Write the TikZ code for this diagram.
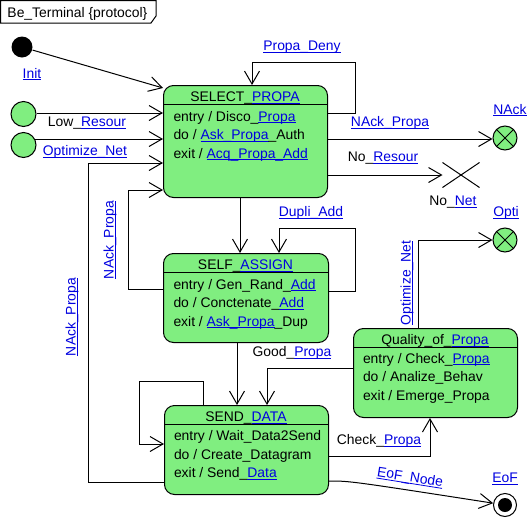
\documentclass[tikz,border=0pt]{standalone}
\usepackage{fontspec}
\setmainfont{Liberation Sans}
\usetikzlibrary{arrows.meta}
\definecolor{sgreen}{RGB}{128,238,128}
\definecolor{lblue}{RGB}{0,0,224}
\newcommand\lnk[1]{{\color{lblue}\setbox0=\hbox{#1}\rlap{\rule[-2pt]{\wd0}{0.8pt}}\box0}}
\begin{document}
\begin{tikzpicture}[x=1pt,y=-1pt,line width=1pt,
  every node/.style={font=\fontsize{13.9}{16}\selectfont},
  state/.style={draw, fill=sgreen, rounded corners=10pt, inner sep=0pt, minimum width=164pt, anchor=north west},
  ttl/.style={anchor=base, inner sep=0pt},
  row/.style={anchor=base west, inner sep=0pt},
  lbl/.style={inner sep=0pt},
  arr/.style={-{Straight Barb[length=13pt,width=15pt]}},
  pseudo/.style={circle, draw, fill=sgreen, inner sep=0pt, minimum size=25pt}]
\useasboundingbox (0,0) rectangle (531,520);

% frame tab
\draw (0.5,0.5) -- (156,0.5) -- (156,16) -- (151,23) -- (0.5,23) -- cycle;
\node[anchor=base west, inner sep=0pt] (frame) at (7,17.7) {Be\_Terminal \{protocol\}};

% pseudo states
\node[circle, fill=black, inner sep=0pt, minimum size=21pt] (init) at (22,47) {};
\node[lbl] (initl) at (32,74) {\lnk{Init}};
\node[pseudo] (g1) at (23.5,114) {};
\node[pseudo] (g2) at (23.5,145) {};
\node[pseudo, minimum size=24pt] (nack) at (505,138) {};
\draw (nack.45) -- (nack.225) (nack.135) -- (nack.315);
\node[pseudo, minimum size=24pt] (opti) at (505,240) {};
\draw (opti.45) -- (opti.225) (opti.135) -- (opti.315);
\node[circle, draw, fill=white, inner sep=0pt, minimum size=23pt] (eof) at (505,505) {};
\node[circle, fill=black, inner sep=0pt, minimum size=14pt] (eofin) at (505,505) {};
\node[inner sep=0pt, minimum width=36pt, minimum height=24pt] (term) at (461,175) {};
\draw (term.north west) -- (term.south east) (term.south west) -- (term.north east);

% states
\node[state, minimum height=112pt] (sel) at (163,85) {};
\draw (sel.west |- 0,104) -- (sel.east |- 0,104);
\node[ttl] (selt) at (245,101.5) {SELECT\_\lnk{PROPA}};
\node[row] (sel1) at (173,121) {entry / Disco\_\lnk{Propa}};
\node[row] (sel2) at (173,139.5) {do / \lnk{Ask\_Propa}\_Auth};
\node[row] (sel3) at (173,158) {exit / \lnk{Acq\_Propa\_Add}};

\node[state, minimum height=89pt, minimum width=165pt] (self) at (163,253) {};
\draw (self.west |- 0,272) -- (self.east |- 0,272);
\node[ttl] (selft) at (245.5,269.5) {SELF\_\lnk{ASSIGN}};
\node[row] (self1) at (173,289) {entry / Gen\_Rand\_\lnk{Add}};
\node[row] (self2) at (173,307.5) {do / Conctenate\_\lnk{Add}};
\node[row] (self3) at (173,326) {exit / \lnk{Ask\_Propa}\_Dup};

\node[state, minimum height=89pt] (send) at (164,405) {};
\draw (send.west |- 0,424) -- (send.east |- 0,424);
\node[ttl] (sendt) at (246,421.5) {SEND\_\lnk{DATA}};
\node[row] (send1) at (173.5,440.5) {entry / Wait\_Data2Send};
\node[row] (send2) at (173.5,459) {do / Create\_Datagram};
\node[row] (send3) at (173.5,477.5) {exit / Send\_\lnk{Data}};

\node[state, minimum height=89pt] (qual) at (353,328) {};
\draw (qual.west |- 0,347) -- (qual.east |- 0,347);
\node[ttl] (qualt) at (435,344.5) {Quality\_of\_\lnk{Propa}};
\node[row] (qual1) at (362.5,363) {entry / Check\_\lnk{Propa}};
\node[row] (qual2) at (362.5,381.5) {do / Analize\_Behav};
\node[row] (qual3) at (362.5,400) {exit / Emerge\_Propa};

% transitions
\coordinate (selin) at (163,88);
\draw[arr] (init) -- (selin);
\draw[arr] (g1.east |- 0,113) -- (sel.west |- 0,113);
\draw[arr] (g2.east |- 0,139) ++(-1.5,0) -- (sel.west |- 0,139);
\draw[arr] (send.west |- 0,482) -| (88,163) -- (sel.west |- 0,163);
\draw[arr] (self.west |- 0,289) -| (128,190) -- (sel.west |- 0,190);
\draw[arr] (sel.east |- 0,113) -| (355,62) -| (sel.north -| 252,0);
\draw[arr] (sel.east |- 0,139) -- (nack.west |- 0,139);
\draw[arr] (sel.east |- term) -- (term.west);
\draw[arr] (sel.south -| 240,0) -- (self.north -| 240,0);
\draw[arr] (self.east |- 0,291) -| (355,228) -| (self.north -| 279,0);
\draw[arr] (self.south -| 237,0) -- (send.north -| 237,0);
\draw[arr] (qual.west |- 0,368) -| (send.north -| 267,0);
\draw[arr] (send.north -| 203,0) |- (139,381) |- (send.west |- 0,444);
\draw[arr] (send.east |- 0,456) -| (qual.south -| 430,0);
\draw[arr] (qual.north -| 418,0) |- (opti.west);
\draw[arr] (send.east |- 0,481) .. controls (350,481) .. (eof);

% labels
\node[lbl] (l1) at (87,123) {Low\_\lnk{Resour}};
\node[lbl] (l2) at (85,152) {\lnk{Optimize\_Net}};
\node[lbl] (l3) at (302,47) {\lnk{Propa\_Deny}};
\node[lbl] (l4) at (390,123) {\lnk{NAck\_Propa}};
\node[lbl] (l5) at (510,110) {\lnk{NAck}};
\node[lbl] (l6) at (383,158) {No\_\lnk{Resour}};
\node[lbl] (l7) at (453,202) {No\_\lnk{Net}};
\node[lbl] (l8) at (506,213) {\lnk{Opti}};
\node[lbl] (l9) at (311,213) {\lnk{Dupli\_Add}};
\node[lbl, rotate=90] (l10) at (110,240) {\lnk{NAck\_Propa}};
\node[lbl, rotate=90] (l11) at (72,317) {\lnk{NAck\_Propa}};
\node[lbl] (l12) at (292,353) {Good\_\lnk{Propa}};
\node[lbl, rotate=90] (l13) at (407,283) {\lnk{Optimize\_Net}};
\node[lbl] (l14) at (379,441) {Check\_\lnk{Propa}};
\node[lbl, rotate=-9] (l15) at (410,478) {\lnk{EoF\_Node}};
\node[lbl] (l16) at (505,479) {\lnk{EoF}};
\end{tikzpicture}
\end{document}
